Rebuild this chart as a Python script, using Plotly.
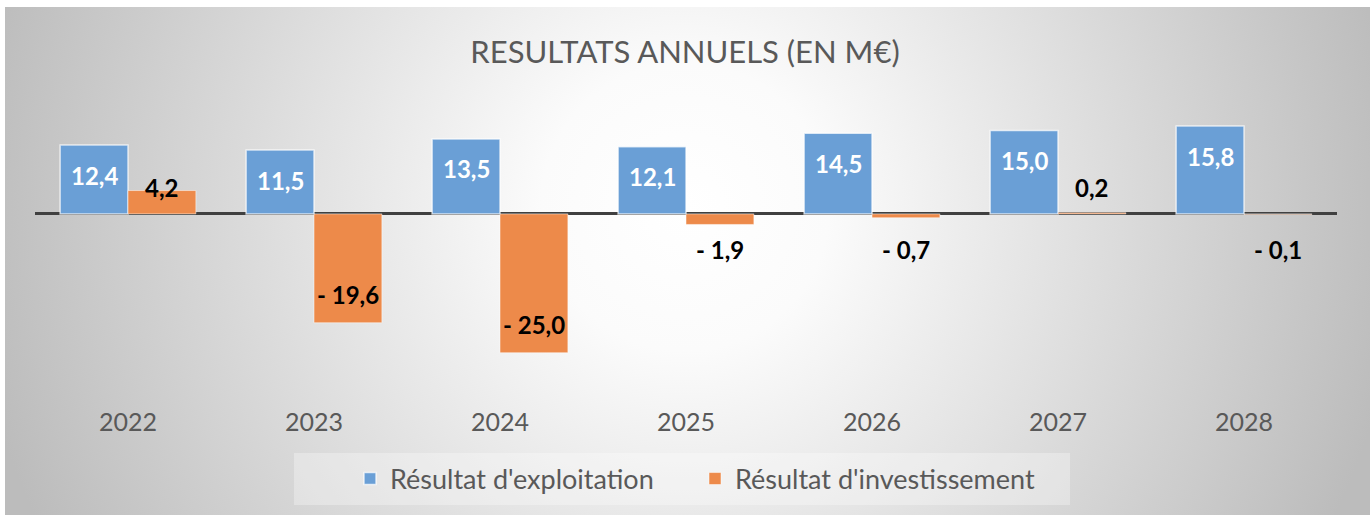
import base64
import plotly.graph_objects as go

# Data
years = ["2022", "2023", "2024", "2025", "2026", "2027", "2028"]
exploitation = [12.4, 11.5, 13.5, 12.1, 14.5, 15.0, 15.8]
investissement = [4.2, -19.6, -25.0, -1.9, -0.7, 0.2, -0.1]

W, H = 1370, 515
BLUE = "#6a9fd6"
ORANGE = "#ed8a4a"
TXT = "#595959"
FONT = "Lato"


def fmt(v):
    s = f"{abs(v):.1f}".replace(".", ",")
    return "- " + s if v < 0 else s


# plot area in pixels
px_left, px_right = 35, 1337
px_top, px_bottom = 100, 405
bargap = 0.27
cat_w = (px_right - px_left) / len(years)
bar_w = cat_w * (1 - bargap) / 2

# radial grey background as svg
svg = f"""<svg xmlns="http://www.w3.org/2000/svg" width="1365" height="508" viewBox="0 0 1365 508" preserveAspectRatio="none">
<defs><radialGradient id="g" gradientUnits="userSpaceOnUse" cx="680" cy="200" r="720">
<stop offset="0" stop-color="#ffffff"/><stop offset="0.2" stop-color="#fbfbfb"/>
<stop offset="1" stop-color="#bcbcbc"/></radialGradient></defs>
<rect width="1365" height="508" fill="url(#g)"/></svg>"""
bg_src = "data:image/svg+xml;base64," + base64.b64encode(svg.encode()).decode()

fig = go.Figure()

fig.add_trace(go.Bar(
    x=years, y=exploitation, name="Résultat d'exploitation",
    marker=dict(color=BLUE, line=dict(color="rgba(255,255,255,0.7)", width=1.5)),
))
fig.add_trace(go.Bar(
    x=years, y=investissement, name="Résultat d'investissement",
    marker=dict(color=ORANGE, line=dict(color="rgba(255,255,255,0.5)", width=1)),
))

annotations = []
for i, v in enumerate(exploitation):
    annotations.append(dict(
        x=i, y=v, xref="x", yref="y", text=fmt(v), showarrow=False,
        xshift=-bar_w / 2, yshift=-30, yanchor="middle",
        font=dict(family=FONT, size=24, color="white", weight="bold"),
    ))
for i, v in enumerate(investissement):
    if v < -5:
        y, ys = v, 28
    elif v < 0:
        y, ys = 0, -36
    else:
        y, ys = 0, 26
    annotations.append(dict(
        x=i, y=y, xref="x", yref="y", text=fmt(v), showarrow=False,
        xshift=bar_w / 2, yshift=ys, yanchor="middle",
        font=dict(family=FONT, size=24, color="black", weight="bold"),
    ))

fig.update_layout(
    width=W, height=H,
    margin=dict(l=0, r=0, t=0, b=0, autoexpand=False),
    paper_bgcolor="white",
    plot_bgcolor="rgba(0,0,0,0)",
    barmode="group",
    bargap=bargap,
    bargroupgap=0,
    font=dict(family=FONT, color=TXT),
    title=dict(
        text="RESULTATS ANNUELS (EN M€)",
        x=0.5, xanchor="center", y=1 - 52 / H, yanchor="middle",
        font=dict(family=FONT, size=31, color=TXT),
    ),
    xaxis=dict(
        type="category", automargin=False, range=[-0.5, len(years) - 0.5],
        domain=[px_left / W, px_right / W],
        showgrid=False, showline=False, ticks="",
        tickfont=dict(family=FONT, size=25, color=TXT),
    ),
    yaxis=dict(
        automargin=False,
        domain=[1 - px_bottom / H, 1 - px_top / H],
        range=[-34.4, 20.5],
        showgrid=False, showticklabels=False, ticks="",
        zeroline=True, zerolinecolor="#404040", zerolinewidth=3,
    ),
    showlegend=True,
    legend=dict(
        orientation="h", x=0.5 + 10 / W, xanchor="center", y=1 - 479 / H, yanchor="middle",
        font=dict(family=FONT, size=27, color=TXT),
        bgcolor="rgba(0,0,0,0)", entrywidth=300, itemwidth=30,
    ),
    images=[dict(
        source=bg_src, xref="paper", yref="paper",
        x=5 / W, y=1 - 7 / H, sizex=1365 / W, sizey=508 / H,
        xanchor="left", yanchor="top", sizing="stretch", layer="below",
    )],
    shapes=[dict(
        type="rect", xref="paper", yref="paper", layer="below",
        x0=294 / W, x1=1070 / W, y0=1 - 505 / H, y1=1 - 453 / H,
        fillcolor="rgba(255,255,255,0.3)", line=dict(width=0),
    )],
    annotations=annotations,
)

fig.write_html("out.html", config={"displayModeBar": False},
               post_script="document.body.style.margin='0';")
